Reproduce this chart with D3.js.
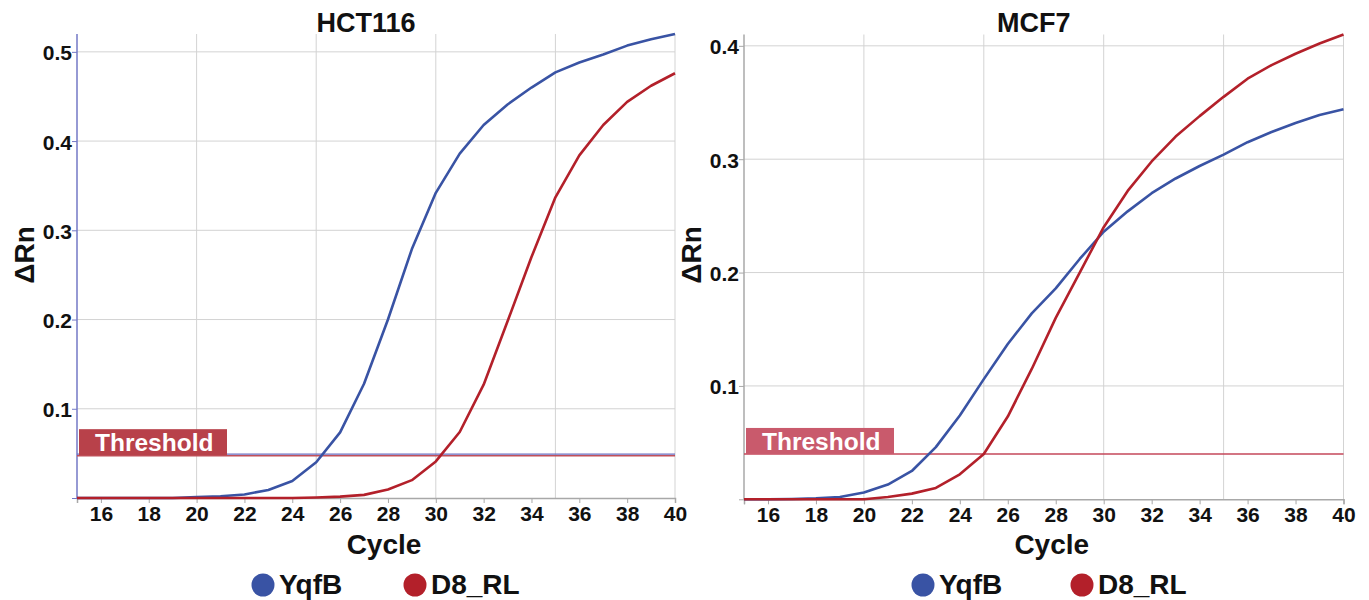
<!DOCTYPE html>
<html>
<head>
<meta charset="utf-8">
<script src="https://cdn.jsdelivr.net/npm/d3@7"></script>
<style>
  html, body { margin: 0; padding: 0; background: #fff; }
  svg { display: block; font-family: "Liberation Sans", Arial, Helvetica, sans-serif; }
</style>
</head>
<body>
<svg id="chart" width="1369" height="600"></svg>
<script>
// ---- data ----
const cycles = [15,16,17,18,19,20,21,22,23,24,25,26,27,28,29,30,31,32,33,34,35,36,37,38,39,40];
const xTickLabels = [16,18,20,22,24,26,28,30,32,34,36,38,40];
const seriesNames = ["YqfB", "D8_RL"];

const hctYqfB = [0,0,0,0,0,0.001,0.002,0.004,0.009,0.019,0.040,0.0735,0.128,0.200,0.279,0.342,0.386,0.418,0.441,0.460,0.477,0.488,0.497,0.507,0.514,0.520];
const hctD8RL = [0,0,0,0,0,0,0,0,0,0,0.0005,0.0015,0.0035,0.0095,0.020,0.041,0.074,0.127,0.198,0.270,0.337,0.384,0.418,0.444,0.462,0.476];
const hctYTicks = [0.1,0.2,0.3,0.4,0.5];
const hctThreshold = 0.048;

const mcfYqfB = [0,0,0.0003,0.0008,0.002,0.006,0.013,0.025,0.046,0.074,0.106,0.137,0.164,0.186,0.212,0.236,0.254,0.270,0.283,0.294,0.304,0.315,0.324,0.332,0.339,0.344];
const mcfD8RL = [0,0,0,0,0,0,0.002,0.005,0.010,0.022,0.040,0.073,0.115,0.160,0.200,0.240,0.272,0.298,0.320,0.338,0.355,0.371,0.383,0.393,0.402,0.410];
const mcfYTicks = [0.1,0.2,0.3,0.4];
const mcfThreshold = 0.040;

// ---- styles ----
const BLUE = "#3953a4", RED = "#b3202a";
const svg = d3.select("#chart");

function panel(opt) {
  const x = d3.scaleLinear().domain([15, 40]).range([opt.x0, opt.x1]);
  const y = d3.scaleLinear().domain([0, opt.yMax]).range([opt.yBottom, opt.yTop]);
  const g = svg.append("g");

  // grid
  g.append("g").selectAll("line.v").data([20,25,30,35,40]).join("line")
    .attr("x1", d => x(d)).attr("x2", d => x(d))
    .attr("y1", y(0)).attr("y2", opt.yTop)
    .attr("stroke", "#d3d3d3").attr("stroke-width", 1);
  g.append("g").selectAll("line.h").data(opt.yTicks).join("line")
    .attr("x1", x(15)).attr("x2", x(40))
    .attr("y1", d => y(d)).attr("y2", d => y(d))
    .attr("stroke", "#d3d3d3").attr("stroke-width", 1);

  // x axis
  const xAxis = d3.axisBottom(x).tickValues([15].concat(xTickLabels))
    .tickSize(5).tickPadding(3).tickFormat(d => d === 15 ? "" : d);
  const xa = g.append("g").attr("transform", `translate(0,${y(0)})`).call(xAxis);
  xa.select(".domain").attr("stroke", "#a8a8a8").attr("stroke-width", 1.5);
  xa.selectAll(".tick line").attr("stroke", "#a8a8a8");
  xa.selectAll("text").attr("font-size", 21).attr("font-weight", "bold").attr("fill", "#111");

  // y axis
  const yAxis = d3.axisLeft(y).tickValues([0].concat(opt.yTicks)).tickSize(5).tickPadding(0)
    .tickFormat(d => d === 0 ? "" : d3.format(".1f")(d));
  const ya = g.append("g").attr("transform", `translate(${x(15)},0)`).call(yAxis);
  ya.select(".domain").attr("stroke", opt.yAxisColor).attr("stroke-width", 1.5)
    .attr("d", `M-0,${y(0)}V${opt.yTop}`);
  ya.selectAll(".tick line").attr("stroke", opt.yAxisColor);
  ya.selectAll("text").attr("font-size", 21).attr("font-weight", "bold").attr("fill", "#111")
    .attr("dy", "0.38em");

  // threshold
  const ty = y(opt.threshold);
  if (opt.dualThreshold) {
    g.append("line").attr("x1", x(15)).attr("x2", x(40)).attr("y1", ty - 1).attr("y2", ty - 1)
      .attr("stroke", "#6a6cc0").attr("stroke-width", 1.4);
    g.append("line").attr("x1", x(15)).attr("x2", x(40)).attr("y1", ty + 0.6).attr("y2", ty + 0.6)
      .attr("stroke", "#c0505a").attr("stroke-width", 1.4);
  } else {
    g.append("line").attr("x1", x(15)).attr("x2", x(40)).attr("y1", ty).attr("y2", ty)
      .attr("stroke", "#c4475a").attr("stroke-width", 1.5);
  }
  g.append("rect").attr("x", x(15) + opt.boxDx).attr("y", ty - 26)
    .attr("width", 148).attr("height", 26).attr("fill", opt.boxColor);
  g.append("text").attr("x", x(15) + opt.boxDx + 16).attr("y", ty - 4)
    .attr("font-size", 24.5).attr("font-weight", "bold").attr("fill", "#fff")
    .text("Threshold");

  // curves
  const line = d3.line().x((d, i) => x(cycles[i])).y(d => y(d));
  [[opt.a, BLUE], [opt.b, RED]].forEach(([vals, c]) => {
    g.append("path").datum(vals).attr("d", line)
      .attr("fill", "none").attr("stroke", c).attr("stroke-width", 2.6)
      .attr("stroke-linejoin", "round");
  });

  // title
  g.append("text").attr("x", (opt.x0 + opt.x1) / 2 - 10).attr("y", 32)
    .attr("text-anchor", "middle").attr("font-size", 27).attr("font-weight", "bold")
    .attr("fill", "#111").text(opt.title);

  // axis titles
  g.append("text").attr("x", (opt.x0 + opt.x1) / 2 + 8).attr("y", 554)
    .attr("text-anchor", "middle").attr("font-size", 28).attr("font-weight", "bold")
    .attr("fill", "#111").text("Cycle");
  g.append("text").attr("transform", `translate(${opt.x0 - 43},255) rotate(-90)`)
    .attr("text-anchor", "middle").attr("font-size", 28).attr("font-weight", "bold")
    .attr("fill", "#111").text("\u0394Rn");

  // legend
  const colors = [BLUE, RED];
  seriesNames.forEach((nm, i) => {
    const cx = opt.legendX[i];
    g.append("circle").attr("cx", cx).attr("cy", 585).attr("r", 11.5).attr("fill", colors[i]);
    g.append("text").attr("x", cx + 16).attr("y", 594).attr("font-size", 28)
      .attr("font-weight", "bold").attr("fill", "#111").text(nm);
  });
}

panel({
  title: "HCT116", x0: 77, x1: 675, yTop: 34, yBottom: 498, yMax: 0.52,
  yTicks: hctYTicks, a: hctYqfB, b: hctD8RL, threshold: hctThreshold,
  yAxisColor: "#7379c6", dualThreshold: true, boxColor: "#b8414a", boxDx: 2,
  legendX: [263, 415]
});
panel({
  title: "MCF7", x0: 744, x1: 1343.5, yTop: 34.5, yBottom: 499.3, yMax: 0.41,
  yTicks: mcfYTicks, a: mcfYqfB, b: mcfD8RL, threshold: mcfThreshold,
  yAxisColor: "#a8a8a8", dualThreshold: false, boxColor: "#c95a6c", boxDx: 2,
  legendX: [923, 1082]
});
</script>
</body>
</html>
